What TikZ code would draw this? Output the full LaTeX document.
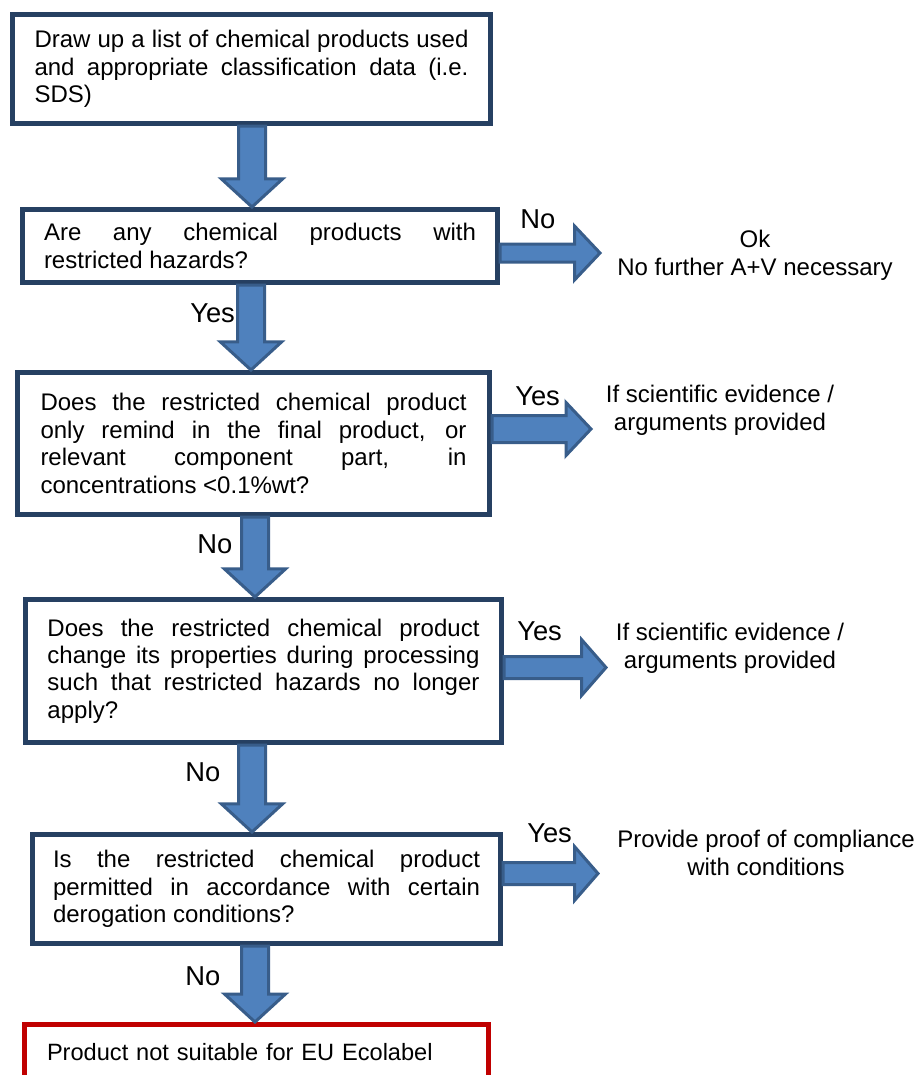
\documentclass[tikz,border=0pt]{standalone}
\usepackage{fontspec}
\setmainfont{Liberation Sans}
\usetikzlibrary{calc}
\definecolor{boxline}{RGB}{38,64,98}
\definecolor{arrowfill}{RGB}{79,129,189}
\definecolor{arrowline}{RGB}{56,93,138}
\definecolor{stopred}{RGB}{192,0,0}
\tolerance=10000
\hyphenpenalty=10000
\tikzset{
  boxtext/.style={font=\fontsize{18pt}{20.6pt}\selectfont},
  flowbox/.style={draw=boxline, line width=3.4pt, fill=white, inner sep=0pt, boxtext, align=justify},
  stopbox/.style={draw=stopred, line width=3.4pt, fill=white, inner xsep=0pt, font=\fontsize{17.7pt}{20.6pt}\selectfont, align=left},
  lbl/.style={font=\fontsize{20.5pt}{24pt}\selectfont, anchor=base west, inner sep=0pt},
  outtext/.style={font=\fontsize{18pt}{20.6pt}\selectfont, align=center, anchor=base, inner sep=0pt},
  barrow/.style={fill=arrowfill, draw=arrowline, line width=2.25pt, line join=miter}
}
\newcommand\vflow[3]{%
  \draw[barrow] let \p0=(#3,0), \p1=(#1.south), \p2=(#2.north) in
   (\x0-10.125pt,\y1) -- (\x0-10.125pt,\y2+21pt) -- (\x0-22.875pt,\y2+21pt) -- (\x0,\y2)
   -- (\x0+22.875pt,\y2+21pt) -- (\x0+10.125pt,\y2+21pt) -- (\x0+10.125pt,\y1) -- cycle;}
\newcommand\hflow[5]{%
  \draw[barrow] let \p1=(#1.east), \p2=(#2) in
   (\x1,\y2+#3) -- (\x2-#5,\y2+#3) -- (\x2-#5,\y2+#4) -- (\x2,\y2)
   -- (\x2-#5,\y2-#4) -- (\x2-#5,\y2-#3) -- (\x1,\y2-#3) -- cycle;}
\begin{document}
\begin{tikzpicture}[x=0.75pt,y=-0.75pt]
\clip (0,0) rectangle (916,1075);
\fill[white] (0,0) rectangle (916,1075);

\node[flowbox, minimum width=358.875pt, minimum height=82.125pt, text width=325.5pt] (b1) at (251.5,69)
  {Draw up a list of chemical products used\linebreak and appropriate classification data (i.e.\linebreak SDS)};
\node[flowbox, minimum width=356.625pt, minimum height=55.125pt, text width=324pt] (b2) at (260,246)
  {Are any chemical products with\linebreak restricted hazards?};
\node[flowbox, minimum width=354.375pt, minimum height=106.875pt, text width=319.5pt] (b3) at (253.5,443.5)
  {Does the restricted chemical product\linebreak only remind in the final product, or\linebreak relevant component part, in\linebreak concentrations <0.1\%wt?};
\node[flowbox, minimum width=357.375pt, minimum height=107.625pt, text width=324pt] (b4) at (263.5,671)
  {Does the restricted chemical product\linebreak change its properties during processing\linebreak such that restricted hazards no longer\linebreak apply?};
\node[flowbox, minimum width=351.375pt, minimum height=82.125pt, text width=320.25pt] (b5) at (266.5,889)
  {Is the restricted chemical product\linebreak permitted in accordance with certain\linebreak derogation conditions?};
\node[stopbox, anchor=north, minimum width=348.375pt, text width=314.25pt, inner ysep=13.875pt,
      text height=13.125pt, text depth=30pt] (b6) at (256.5,1022)
  {Product not suitable for EU Ecolabel};

\coordinate (tA) at (600,253);
\coordinate (tB) at (591,429);
\coordinate (tC) at (606,667.5);
\coordinate (tD) at (598,873.5);

\vflow{b1}{b2}{252}
\vflow{b2}{b3}{251}
\vflow{b3}{b4}{255}
\vflow{b4}{b5}{252}
\vflow{b5}{b6}{255}

\hflow{b2}{tA}{6.75pt}{20.25pt}{19.125pt}
\hflow{b3}{tB}{10.125pt}{19.875pt}{18.75pt}
\hflow{b4}{tC}{8.25pt}{21pt}{18.375pt}
\hflow{b5}{tD}{8.25pt}{20.25pt}{17.625pt}

\node[lbl] (lA) at (520,228) {No};
\node[lbl] (l2) at (190,322) {Yes};
\node[lbl] (lB) at (515,405) {Yes};
\node[lbl] (l3) at (197,553) {No};
\node[lbl] (lC) at (517,640) {Yes};
\node[lbl] (l4) at (185,781) {No};
\node[lbl] (lD) at (527,842) {Yes};
\node[lbl] (l5) at (185,985) {No};

\node[outtext] (oA) at (755,275) {Ok\\No further A+V necessary};
\node[outtext] (oB) at (720,430) {If scientific evidence /\\arguments provided};
\node[outtext] (oC) at (730,668) {If scientific evidence /\\arguments provided};
\node[outtext] (oD) at (766,875) {Provide proof of compliance\\with conditions};
\end{tikzpicture}
\end{document}
